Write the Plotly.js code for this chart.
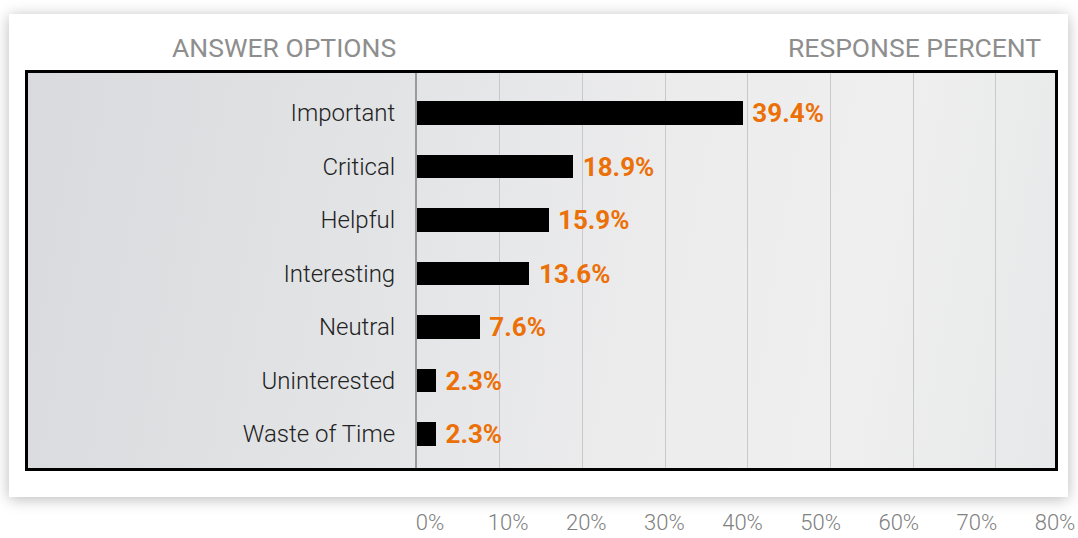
<!DOCTYPE html>
<html>
<head>
<meta charset="utf-8">
<script src="https://cdn.plot.ly/plotly-3.0.1.min.js"></script>
<style>
  html, body { margin: 0; padding: 0; background: #ffffff; width: 1078px; height: 538px; overflow: hidden; }
  #card { position: absolute; left: 9px; top: 14px; width: 1059px; height: 483px; background: #ffffff;
          box-shadow: 0 2px 14px rgba(0,0,0,0.28); }
  #box { position: absolute; left: 25px; top: 70px; width: 1033px; height: 401px;
         background: linear-gradient(100deg, #d9dadd 0%, #e3e4e6 35%, #ececed 60%, #efefef 80%, #e7e8e9 100%); }
  #chart { position: absolute; left: 0; top: 0; width: 1078px; height: 538px; }
</style>
</head>
<body>
<div id="card"></div>
<div id="box"></div>
<div id="chart"></div>
<script>
const categories = ['Important', 'Critical', 'Helpful', 'Interesting', 'Neutral', 'Uninterested', 'Waste of Time'];
const responsePercent = [39.4, 18.9, 15.9, 13.6, 7.6, 2.3, 2.3];
const tickValues = [0, 10, 20, 30, 40, 50, 60, 70, 80];
const tickLabels = ['0%', '10%', '20%', '30%', '40%', '50%', '60%', '70%', '80%'];
const headerLeft = 'ANSWER OPTIONS';
const headerRight = 'RESPONSE PERCENT';

const W = 1078, H = 538;
const px = v => v / W;
const py = v => (H - v) / H;

const bars = {
  type: 'bar',
  orientation: 'h',
  y: categories,
  x: responsePercent,
  width: 0.44,
  marker: { color: '#000000', line: { width: 0 } },
  text: responsePercent.map(v => '\u00a0' + v.toFixed(1) + '%'),
  textposition: 'outside',
  constraintext: 'none',
  cliponaxis: false,
  textfont: { family: 'Roboto, Arial, sans-serif', size: 26, color: '#ec7008', weight: 700 },
  hoverinfo: 'skip'
};

const scaleTrace = {
  type: 'scatter',
  mode: 'markers',
  x: tickValues,
  y: tickValues.map(() => 0),
  marker: { opacity: 0 },
  xaxis: 'x2',
  yaxis: 'y2',
  hoverinfo: 'skip',
  showlegend: false
};

const layout = {
  width: W,
  height: H,
  margin: { l: 0, r: 0, t: 0, b: 0 },
  paper_bgcolor: 'rgba(0,0,0,0)',
  plot_bgcolor: 'rgba(0,0,0,0)',
  showlegend: false,
  bargap: 0,
  xaxis: {
    domain: [px(417), px(1058)],
    range: [0, 77.5],
    dtick: 10,
    tick0: 0,
    showgrid: true,
    gridcolor: '#c9c9c9',
    gridwidth: 1,
    zeroline: false,
    showticklabels: false,
    ticks: '',
    fixedrange: true
  },
  yaxis: {
    domain: [py(471), py(70)],
    type: 'category',
    categoryorder: 'array',
    categoryarray: categories,
    range: [6.69, -0.804],
    showgrid: false,
    zeroline: false,
    showline: true,
    linecolor: '#9a9a9a',
    linewidth: 2,
    ticks: '',
    ticklabelstandoff: 15,
    tickfont: { family: 'Roboto, Arial, sans-serif', size: 24, color: '#222222', weight: 300 },
    fixedrange: true
  },
  xaxis2: {
    domain: [px(430), px(1055)],
    anchor: 'y2',
    range: [0, 80],
    tickmode: 'array',
    tickvals: tickValues,
    ticktext: tickLabels,
    showgrid: false,
    zeroline: false,
    showline: false,
    ticks: '',
    ticklabeloverflow: 'allow',
    tickfont: { family: 'Roboto, Arial, sans-serif', size: 22, color: '#808080', weight: 300 },
    fixedrange: true
  },
  yaxis2: {
    domain: [py(507), py(501)],
    anchor: 'x2',
    range: [0, 1],
    visible: false,
    fixedrange: true
  },
  annotations: [
    { text: headerLeft, xref: 'paper', yref: 'paper', x: px(283.5), y: py(47), xanchor: 'center', yanchor: 'middle',
      showarrow: false, font: { family: 'Roboto, Arial, sans-serif', size: 26.5, color: '#8e8e8e' } },
    { text: headerRight, xref: 'paper', yref: 'paper', x: px(1043), y: py(47), xanchor: 'right', yanchor: 'middle',
      showarrow: false, font: { family: 'Roboto, Arial, sans-serif', size: 26.5, color: '#8e8e8e' } }
  ],
  shapes: [
    { type: 'rect', xref: 'paper', yref: 'paper', layer: 'above',
      x0: px(26.5), x1: px(1056.5), y0: py(469.5), y1: py(71.5),
      line: { color: '#000000', width: 3 }, fillcolor: 'rgba(0,0,0,0)' }
  ]
};

Plotly.newPlot('chart', [bars, scaleTrace], layout, { displayModeBar: false, staticPlot: true });
</script>
</body>
</html>
